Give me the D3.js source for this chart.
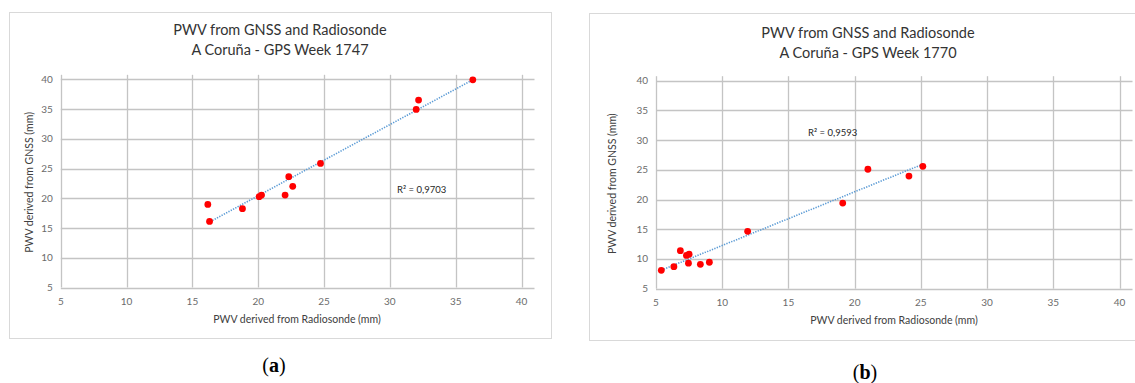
<!DOCTYPE html>
<html>
<head>
<meta charset="utf-8">
<script src="https://cdn.jsdelivr.net/npm/d3@7"></script>
<style>
  body { margin: 0; background: #fff; }
  svg text { font-family: Lato, "Open Sans", sans-serif; }
</style>
</head>
<body>
<div id="canvas"></div>
<script>
"use strict"

/* data */
let axisTicks = [5, 10, 15, 20, 25, 30, 35, 40];

let week1747Radiosonde = [16.17, 16.3, 18.8, 20.07, 20.25, 22.04, 22.32, 22.62, 24.73, 32.0, 32.18, 36.3];
let week1747Gnss = [18.97, 16.1, 18.25, 20.27, 20.54, 20.54, 23.63, 22.0, 25.86, 34.94, 36.5, 39.92];

let week1770Radiosonde = [5.4, 6.35, 6.84, 7.3, 7.5, 7.45, 8.35, 9.03, 11.92, 19.1, 21.0, 24.1, 25.15];
let week1770Gnss = [8.1, 8.7, 11.4, 10.6, 10.8, 9.3, 9.1, 9.45, 14.65, 19.4, 25.1, 23.95, 25.6];

let titles = ["PWV from GNSS and Radiosonde", "A Coruña - GPS Week 1747", "A Coruña - GPS Week 1770"];
let xTitle = "PWV derived from Radiosonde (mm)";
let yTitle = "PWV derived from GNSS (mm)";
let rSquared = ["R² = 0,9703", "R² = 0,9593"];
let captions = ["a", "b"];

let drawing = d3.select("#canvas")
    .append("svg")
    .attr("width", 1135)
    .attr("height", 383);

/* least squares line, like Excel's linear trendline */
function trend(xs, ys) {
    let mx = d3.mean(xs), my = d3.mean(ys);
    let sxy = d3.sum(xs, (x, i) => (x - mx) * (ys[i] - my));
    let sxx = d3.sum(xs, x => (x - mx) * (x - mx));
    let slope = sxy / sxx;
    return x => my + slope * (x - mx);
}

function drawChart(cfg) {
    let g = drawing.append("g");

    // chart frame
    g.append("rect")
        .attr("x", cfg.box[0] + 0.5)
        .attr("y", cfg.box[1] + 0.5)
        .attr("width", cfg.box[2] - cfg.box[0])
        .attr("height", cfg.box[3] - cfg.box[1])
        .attr("fill", "#fff")
        .attr("stroke", "#d9d9d9");

    let x = d3.scaleLinear().domain([5, 40]).range([cfg.left, cfg.right]);
    let y = d3.scaleLinear().domain([5, 40]).range([cfg.bottom, cfg.top]);

    // gridlines
    g.selectAll(".hgrid").data(axisTicks).enter().append("line")
        .attr("x1", x(5)).attr("x2", x(40) + 13)
        .attr("y1", d => Math.round(y(d)) + 0.5).attr("y2", d => Math.round(y(d)) + 0.5)
        .attr("stroke", "#c4c4c4").attr("stroke-width", 1.3);
    g.selectAll(".vgrid").data(axisTicks).enter().append("line")
        .attr("x1", d => Math.round(x(d)) + 0.5).attr("x2", d => Math.round(x(d)) + 0.5)
        .attr("y1", y(40) - 4.5).attr("y2", y(5))
        .attr("stroke", "#c4c4c4").attr("stroke-width", 1.3);

    // tick labels
    g.selectAll(".ylab").data(axisTicks).enter().append("text")
        .attr("x", x(5) - 8).attr("y", d => y(d) + 3.5)
        .attr("text-anchor", "end")
        .attr("font-size", 10).attr("fill", "#6b6b6b")
        .text(d => d);
    g.selectAll(".xlab").data(axisTicks).enter().append("text")
        .attr("x", d => x(d)).attr("y", y(5) + 17)
        .attr("text-anchor", "middle")
        .attr("font-size", 10).attr("fill", "#6b6b6b")
        .text(d => d);

    // titles
    g.append("text")
        .attr("x", cfg.titleX).attr("y", cfg.titleY)
        .attr("text-anchor", "middle").attr("font-size", 14.5).attr("fill", "#333")
        .text(titles[0]);
    g.append("text")
        .attr("x", cfg.titleX).attr("y", cfg.titleY + 20)
        .attr("text-anchor", "middle").attr("font-size", 14.5).attr("fill", "#333")
        .text(cfg.subtitle);
    g.append("text")
        .attr("x", cfg.xTitleX).attr("y", y(5) + 35)
        .attr("text-anchor", "middle").attr("font-size", 10.5).attr("fill", "#404040")
        .text(xTitle);
    g.append("text")
        .attr("transform", "translate(" + cfg.yTitleX + "," + ((y(5) + y(40)) / 2 - 1) + ") rotate(-90)")
        .attr("text-anchor", "middle").attr("font-size", 10.5).attr("fill", "#404040")
        .text(yTitle);

    // trendline
    let f = trend(cfg.xs, cfg.ys);
    let ends = d3.extent(cfg.xs);
    g.append("line")
        .attr("x1", x(ends[0])).attr("y1", y(f(ends[0])))
        .attr("x2", x(ends[1])).attr("y2", y(f(ends[1])))
        .attr("stroke", "#5b9bd5").attr("stroke-width", 1.6)
        .attr("stroke-dasharray", "1.3 1.3");

    // points
    g.selectAll(".pt").data(cfg.xs).enter().append("circle")
        .attr("cx", d => x(d))
        .attr("cy", (d, i) => y(cfg.ys[i]))
        .attr("r", 3.4)
        .attr("fill", "#ff0000");

    g.append("text")
        .attr("x", cfg.r2[0]).attr("y", cfg.r2[1])
        .attr("font-size", 9.5).attr("fill", "#262626")
        .text(cfg.r2text);

    // caption under the chart
    let cap = g.append("text")
        .attr("x", cfg.capX).attr("y", cfg.capY)
        .attr("text-anchor", "middle")
        .attr("font-size", 20).attr("fill", "#000")
        .style("font-family", "'Liberation Serif', 'DejaVu Serif', serif");
    cap.append("tspan").text("(");
    cap.append("tspan").attr("font-weight", "bold").text(cfg.caption);
    cap.append("tspan").text(")");
}

drawChart({
    box: [9, 12, 551, 338],
    left: 60.8, right: 521.5, top: 79.3, bottom: 287.5,
    titleX: 280, titleY: 35, subtitle: titles[1],
    xTitleX: 297, yTitleX: 33,
    xs: week1747Radiosonde, ys: week1747Gnss,
    r2: [397, 192.5], r2text: rSquared[0],
    caption: captions[0], capX: 274, capY: 372
});

drawChart({
    box: [589, 13, 1140, 340],
    left: 656, right: 1119.5, top: 80.7, bottom: 288.7,
    titleX: 868, titleY: 38, subtitle: titles[2],
    xTitleX: 894, yTitleX: 616,
    xs: week1770Radiosonde, ys: week1770Gnss,
    r2: [808, 135.5], r2text: rSquared[1],
    caption: captions[1], capX: 865, capY: 379
});
</script>
</body>
</html>
